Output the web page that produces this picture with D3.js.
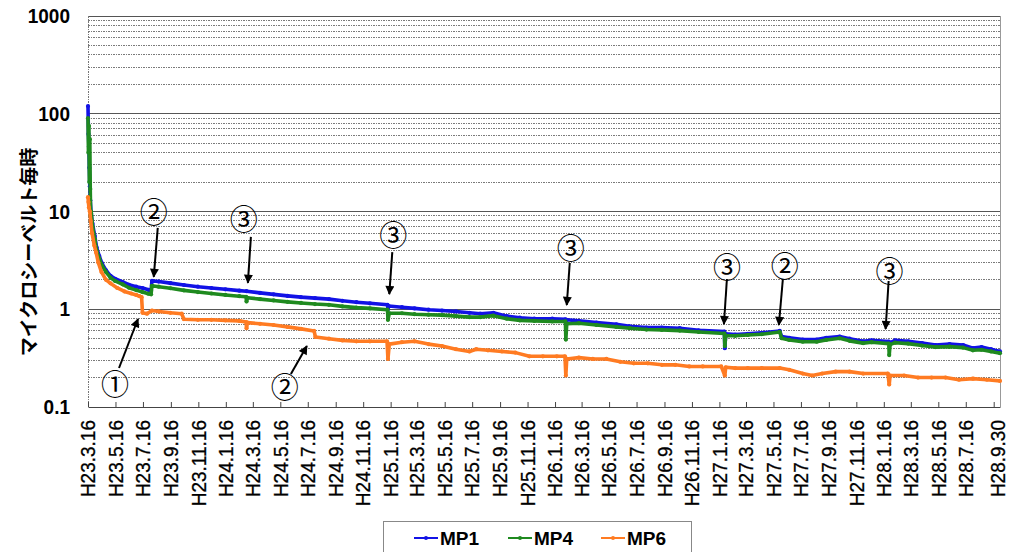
<!DOCTYPE html>
<html><head><meta charset="utf-8">
<script src="https://cdn.jsdelivr.net/npm/d3@7"></script>
<style>
body{margin:0;background:#fff;}
svg{display:block;}
</style></head>
<body><svg id="c" width="1016" height="552"></svg>
<script>
// ---------------- DATA ----------------
const seriesNames = ["MP1", "MP4", "MP6"];
const seriesColors = ["#1212e6", "#1f8a1f", "#ff7b22"];

const mp1Dates = ["2011-03-16","2011-03-17","2011-03-18","2011-03-19","2011-03-20","2011-03-21","2011-03-23","2011-03-26","2011-03-31","2011-04-04","2011-04-10","2011-04-16","2011-04-25","2011-05-05","2011-05-15","2011-06-01","2011-06-15","2011-07-01","2011-07-15","2011-07-28","2011-08-03","2011-08-05","2011-08-20","2011-09-15","2011-10-15","2011-11-15","2011-12-15","2012-01-15","2012-02-15","2012-03-02","2012-04-01","2012-05-01","2012-06-01","2012-07-01","2012-08-01","2012-09-01","2012-10-01","2012-11-01","2012-12-01","2013-01-09","2013-01-10","2013-01-12","2013-02-10","2013-03-10","2013-04-10","2013-05-10","2013-06-10","2013-07-10","2013-08-03","2013-09-01","2013-10-01","2013-10-30","2013-12-01","2014-01-10","2014-02-08","2014-02-09","2014-02-11","2014-03-10","2014-04-18","2014-06-01","2014-07-01","2014-08-07","2014-09-10","2014-10-20","2014-12-01","2015-01-27","2015-01-28","2015-01-30","2015-02-20","2015-03-20","2015-04-20","2015-05-30","2015-06-03","2015-06-20","2015-07-20","2015-08-20","2015-09-10","2015-10-10","2015-11-01","2015-12-01","2015-12-20","2016-01-27","2016-01-28","2016-02-10","2016-03-10","2016-04-10","2016-05-10","2016-06-10","2016-07-10","2016-08-01","2016-08-20","2016-09-10","2016-09-30"];
const mp1Values = [120,62,46,28,18,13,9.5,7.5,5.6,4.3,3.5,2.95,2.5,2.2,2.05,1.9,1.78,1.7,1.65,1.58,1.55,1.95,1.92,1.85,1.77,1.7,1.65,1.6,1.55,1.53,1.47,1.42,1.37,1.33,1.3,1.27,1.22,1.18,1.15,1.11,1.0,1.08,1.05,1.02,0.99,0.97,0.95,0.92,0.9,0.92,0.85,0.82,0.8,0.8,0.79,0.7,0.78,0.76,0.73,0.7,0.67,0.65,0.65,0.64,0.61,0.59,0.40,0.56,0.55,0.56,0.575,0.6,0.525,0.51,0.49,0.49,0.51,0.525,0.5,0.47,0.48,0.466,0.45,0.48,0.47,0.45,0.43,0.44,0.43,0.40,0.41,0.39,0.37];

const mp4Dates = ["2011-03-16","2011-03-17","2011-03-18","2011-03-19","2011-03-20","2011-03-21","2011-03-22","2011-03-23","2011-03-26","2011-03-31","2011-04-04","2011-04-10","2011-04-16","2011-04-25","2011-05-05","2011-05-15","2011-06-01","2011-06-15","2011-07-01","2011-07-15","2011-07-28","2011-08-03","2011-08-05","2011-08-20","2011-09-15","2011-10-15","2011-11-15","2011-12-15","2012-01-15","2012-02-15","2012-03-01","2012-03-02","2012-03-04","2012-04-01","2012-05-01","2012-06-01","2012-07-01","2012-08-01","2012-09-01","2012-10-01","2012-11-01","2012-12-01","2013-01-09","2013-01-10","2013-01-13","2013-02-10","2013-03-10","2013-04-10","2013-05-10","2013-06-10","2013-07-10","2013-08-03","2013-09-01","2013-10-01","2013-10-30","2013-12-01","2014-01-10","2014-02-08","2014-02-09","2014-02-11","2014-03-10","2014-04-18","2014-06-01","2014-07-01","2014-08-07","2014-09-10","2014-10-20","2014-12-01","2015-01-27","2015-01-28","2015-01-30","2015-02-20","2015-03-20","2015-04-20","2015-05-30","2015-06-03","2015-06-20","2015-07-20","2015-08-20","2015-09-10","2015-10-10","2015-11-01","2015-12-01","2015-12-20","2016-01-27","2016-01-28","2016-01-30","2016-02-10","2016-03-10","2016-04-10","2016-05-10","2016-06-10","2016-07-10","2016-08-01","2016-08-20","2016-09-10","2016-09-30"];
const mp4Values = [90,40,75,20,55,17,9,10,7,5.2,4.0,3.3,2.8,2.4,2.1,1.95,1.8,1.66,1.57,1.5,1.44,1.42,1.74,1.7,1.64,1.56,1.5,1.45,1.4,1.36,1.34,1.2,1.31,1.27,1.23,1.19,1.16,1.13,1.11,1.07,1.04,1.02,0.99,0.78,0.91,0.91,0.89,0.88,0.87,0.85,0.83,0.83,0.86,0.8,0.77,0.76,0.75,0.75,0.49,0.71,0.72,0.69,0.66,0.64,0.62,0.615,0.605,0.585,0.565,0.42,0.535,0.535,0.545,0.555,0.585,0.505,0.485,0.465,0.465,0.485,0.505,0.475,0.45,0.46,0.445,0.34,0.435,0.455,0.445,0.425,0.41,0.415,0.405,0.38,0.385,0.37,0.355];

const mp6Dates = ["2011-03-16","2011-03-17","2011-03-18","2011-03-20","2011-03-22","2011-03-25","2011-03-30","2011-04-03","2011-04-08","2011-04-15","2011-04-25","2011-05-05","2011-05-20","2011-06-05","2011-06-20","2011-07-01","2011-07-08","2011-07-13","2011-07-15","2011-07-25","2011-08-05","2011-08-20","2011-09-15","2011-10-10","2011-10-15","2011-11-15","2011-12-15","2012-01-15","2012-02-15","2012-03-01","2012-03-02","2012-03-04","2012-04-01","2012-05-01","2012-06-01","2012-07-01","2012-07-30","2012-08-02","2012-09-01","2012-10-01","2012-11-01","2012-12-01","2013-01-08","2013-01-10","2013-01-13","2013-02-10","2013-03-10","2013-04-10","2013-05-10","2013-06-10","2013-07-10","2013-07-25","2013-08-20","2013-09-20","2013-10-20","2013-11-20","2013-12-20","2014-01-20","2014-02-07","2014-02-09","2014-02-11","2014-03-10","2014-04-10","2014-05-10","2014-06-10","2014-07-10","2014-08-10","2014-09-10","2014-10-10","2014-11-10","2014-12-10","2015-01-20","2015-01-28","2015-01-30","2015-02-20","2015-03-20","2015-04-20","2015-05-30","2015-06-20","2015-07-20","2015-08-10","2015-09-01","2015-10-01","2015-11-01","2015-12-01","2016-01-25","2016-01-28","2016-01-30","2016-03-01","2016-04-01","2016-05-01","2016-06-01","2016-07-01","2016-08-01","2016-09-01","2016-09-30"];
const mp6Values = [14,12.5,11,10,8,6,4.5,3.8,3.0,2.4,2.0,1.84,1.65,1.52,1.45,1.4,1.36,1.33,0.92,0.9,0.97,0.95,0.92,0.9,0.79,0.78,0.78,0.77,0.76,0.74,0.64,0.73,0.71,0.69,0.66,0.63,0.6,0.52,0.5,0.48,0.47,0.47,0.47,0.31,0.44,0.46,0.47,0.44,0.42,0.39,0.37,0.39,0.38,0.37,0.36,0.33,0.33,0.33,0.33,0.21,0.31,0.32,0.31,0.31,0.29,0.28,0.28,0.27,0.27,0.26,0.26,0.26,0.21,0.255,0.25,0.25,0.25,0.25,0.24,0.22,0.21,0.22,0.23,0.23,0.22,0.22,0.17,0.21,0.21,0.20,0.20,0.20,0.19,0.195,0.19,0.185];

const xLabels = ["H23.3.16","H23.5.16","H23.7.16","H23.9.16","H23.11.16","H24.1.16","H24.3.16","H24.5.16","H24.7.16","H24.9.16","H24.11.16","H25.1.16","H25.3.16","H25.5.16","H25.7.16","H25.9.16","H25.11.16","H26.1.16","H26.3.16","H26.5.16","H26.7.16","H26.9.16","H26.11.16","H27.1.16","H27.3.16","H27.5.16","H27.7.16","H27.9.16","H27.11.16","H28.1.16","H28.3.16","H28.5.16","H28.7.16","H28.9.30"];
const xUnlabeledTicks = ["H28.9.16"];
const yTickValues = [0.1, 1, 10, 100, 1000];
const yTitle = "マイクロシーベルト毎時";

// annotations: circled label, arrow tip (date, value)
const noteLabels = ["①","②","③","③","③","③","②","③","②"];
const noteDates = ["2011-07-05","2011-08-09","2012-03-05","2013-01-13","2014-02-11","2015-01-26","2015-05-28","2016-01-20","2012-07-14"];
const noteValues = [0.795, 2.14, 1.86, 1.43, 1.105, 0.706, 0.69, 0.628, 0.42];

// ---------------- CHART ----------------
const svg = d3.select("#c");
const L = 88, R = 1000, T = 16, B = 407;
const parse = d3.utcParse("%Y-%m-%d");
const heisei = s => { const p = s.slice(1).split(".").map(Number); return new Date(Date.UTC(1988 + p[0], p[1]-1, p[2])); };

const x = d3.scaleUtc().domain([parse("2011-03-16"), parse("2016-09-30")]).range([L, R]);
const y = d3.scaleLog().domain([0.1, 1000]).range([B, T]);

svg.append("rect").attr("width",1016).attr("height",552).attr("fill","#fff");

// gridlines
const grid = svg.append("g");
const gridVals = [];
[0.1,1,10,100].forEach(d => { for (let k=1;k<=9;k++) gridVals.push({v:d*k, major:k===1}); });
gridVals.push({v:1000, major:true});
gridVals.forEach(g => {
  if (g.v === 0.1) return;
  grid.append("line").attr("x1",L).attr("x2",R).attr("y1",y(g.v)).attr("y2",y(g.v))
    .attr("stroke", g.major ? "#555" : "#7a7a7a")
    .attr("stroke-width", 1)
    .attr("stroke-dasharray", g.major ? null : "1.5,1")
    .attr("shape-rendering","crispEdges");
});
// borders
svg.append("line").attr("x1",L).attr("x2",L).attr("y1",T).attr("y2",B).attr("stroke","#777").attr("stroke-dasharray","1.5,1").attr("shape-rendering","crispEdges");
svg.append("line").attr("x1",R).attr("x2",R).attr("y1",T).attr("y2",B).attr("stroke","#999").attr("shape-rendering","crispEdges");

// x axis with inward ticks
const tickDates = xLabels.filter(s=>s!=="H28.9.30").map(heisei).concat(xUnlabeledTicks.map(heisei));
const xAxis = d3.axisBottom(x).tickValues(tickDates).tickSizeInner(-5).tickSizeOuter(0).tickFormat("");
const gx = svg.append("g").attr("transform",`translate(0,${B})`).call(xAxis);
gx.select(".domain").attr("stroke","#444");
gx.selectAll(".tick line").attr("stroke","#444");

// x labels
svg.append("g").selectAll("text").data(xLabels).join("text")
  .attr("transform", s => `translate(${Math.min(x(heisei(s)), R-2)},420) rotate(-90) scale(0.95,1)`)
  .attr("text-anchor","end").attr("dy","0.36em")
  .attr("font-family","'Liberation Sans', Arial, sans-serif").attr("font-size",20)
  .attr("stroke","#000").attr("stroke-width",0.3)
  .attr("fill","#000").text(s=>s);

// y labels
svg.append("g").selectAll("text").data(yTickValues).join("text")
  .attr("transform", v => `translate(70,${y(v)}) scale(0.95,1)`)
  .attr("text-anchor","end").attr("dy","0.36em")
  .attr("font-family","'Liberation Sans', Arial, sans-serif").attr("font-size",20).attr("font-weight","bold")
  .attr("fill","#000").text(v => String(v));

// y title
svg.append("text").attr("transform","translate(29,252) rotate(-90)")
  .attr("text-anchor","middle").attr("dy","0.36em")
  .attr("font-family","'Noto Sans CJK JP', sans-serif").attr("font-size",19).attr("font-weight","bold")
  .text(yTitle);

// series
const series = [
  {dates: mp1Dates, values: mp1Values},
  {dates: mp4Dates, values: mp4Values},
  {dates: mp6Dates, values: mp6Values}
];
const line = d3.line().x(d=>x(d[0])).y(d=>y(d[1]));
series.forEach((s,i) => {
  const pts = s.dates.map((d,j)=>[parse(d), s.values[j]]);
  svg.append("path").datum(pts).attr("d",line).attr("fill","none")
    .attr("stroke",seriesColors[i]).attr("stroke-width",3.6).attr("stroke-linejoin","round");
  svg.append("g").selectAll("circle").data(pts).join("circle")
    .attr("cx",d=>x(d[0])).attr("cy",d=>y(d[1])).attr("r",2.1).attr("fill",seriesColors[i]);
});

// annotations
const tails = [[-19,49],[4,-49],[3,-46],[3,-42],[3,-42],[3,-45],[4,-46],[3,-48],[-16,28]];
const labelOff = [[-23,64],[0,-66],[-4,-65],[4,-60],[4,-58],[3,-58],[6,-60],[4,-59],[-22,40]];
const defs = svg.append("defs");
defs.append("marker").attr("id","ah").attr("viewBox","0 0 10 10").attr("refX",9).attr("refY",5)
  .attr("markerWidth",5).attr("markerHeight",4.5).attr("orient","auto")
  .append("path").attr("d","M0,0 L10,5 L0,10 Z").attr("fill","#000");
noteLabels.forEach((lab,i) => {
  const tx = x(parse(noteDates[i])), ty = y(noteValues[i]);
  svg.append("line").attr("x1",tx+tails[i][0]).attr("y1",ty+tails[i][1]).attr("x2",tx).attr("y2",ty)
    .attr("stroke","#000").attr("stroke-width",2).attr("marker-end","url(#ah)");
  svg.append("text").attr("x",tx+labelOff[i][0]).attr("y",ty+labelOff[i][1])
    .attr("text-anchor","middle").attr("dominant-baseline","central")
    .attr("font-family","'Noto Sans CJK JP', sans-serif").attr("font-size",28)
    .attr("fill","#000").text(lab);
});

// legend
const lg = svg.append("g");
lg.append("rect").attr("x",383.5).attr("y",521.5).attr("width",308).attr("height",40)
  .attr("fill","#fff").attr("stroke","#888");
const legX = [414, 508, 601];
seriesNames.forEach((n,i) => {
  lg.append("line").attr("x1",legX[i]).attr("x2",legX[i]+24).attr("y1",538).attr("y2",538)
    .attr("stroke",seriesColors[i]).attr("stroke-width",2);
  lg.append("circle").attr("cx",legX[i]+12).attr("cy",538).attr("r",2).attr("fill",seriesColors[i]);
  lg.append("text").attr("x",legX[i]+26).attr("y",544.5)
    .attr("font-family","'Liberation Sans', Arial, sans-serif").attr("font-size",19).attr("font-weight","bold")
    .text(n);
});
</script></body></html>
